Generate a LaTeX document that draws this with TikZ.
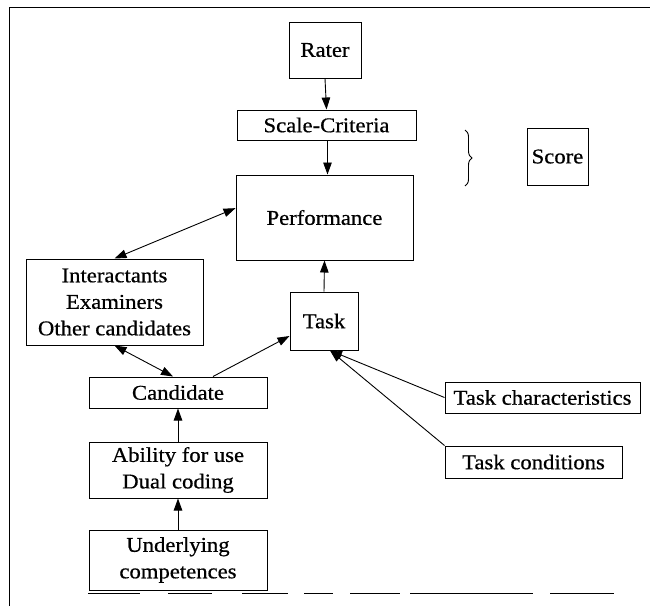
\documentclass[tikz,border=0pt]{standalone}
\usepackage{fontspec}
\setmainfont{Liberation Serif}[FakeStretch=1.08,FakeBold=0.6]
\usetikzlibrary{arrows.meta,decorations.pathreplacing}
\begin{document}
\begin{tikzpicture}[x=1pt,y=-1pt,
  box/.style={draw, line width=1pt, inner sep=0pt, align=center,
    font=\fontsize{21}{26.5}\selectfont},
  conn/.style={line width=0.9pt, -{Triangle[length=12pt,width=8.5pt]}},
  dconn/.style={line width=0.9pt, {Triangle[length=12pt,width=8.5pt]}-{Triangle[length=12pt,width=8.5pt]}},
  frame/.style={line width=1pt}]
\useasboundingbox (0,0) rectangle (650,606);
% frame
\draw[frame] (9,606) -- (9,7) -- (650,7);
\foreach \a/\b in {88/140,168/212,242/288,304/333,350/400,410/533,550/614}
  \draw[line width=0.7pt] (\a,593) -- (\b,593);
% boxes
\node[box, minimum width=72pt, minimum height=56pt] (rater) at (325,50) {Rater};
\node[box, minimum width=179pt, minimum height=30pt] (scale) at (326.5,125) {Scale-Criteria};
\node[box, minimum width=177pt, minimum height=85pt] (perf) at (324.5,217.5) {Performance};
\node[box, minimum width=61pt, minimum height=57pt] (score) at (557.5,156.5) {Score};
\node[box, minimum width=177pt, minimum height=86pt] (inter) at (114.5,302) {Interactants\\Examiners\\Other candidates};
\node[box, minimum width=68pt, minimum height=58pt] (task) at (324,321) {Task};
\node[box, minimum width=178pt, minimum height=31pt] (cand) at (178,392.5) {Candidate};
\node[box, minimum width=178pt, minimum height=56pt] (abil) at (178,470) {Ability for use\\Dual coding};
\node[box, minimum width=178pt, minimum height=60pt] (under) at (178,560) {Underlying\\competences};
\node[box, minimum width=195pt, minimum height=31pt] (tchar) at (542.5,397.5) {Task characteristics};
\node[box, minimum width=177pt, minimum height=32pt] (tcond) at (533.5,462) {Task conditions};
% brace
\draw[line width=0.9pt, decorate, decoration={brace, amplitude=7pt}] (465,130) -- (465,186);
% connectors
\draw[conn] (rater.south) -- (scale.north);
\draw[conn] ([xshift=1pt]scale.south) -- ([xshift=3pt]perf.north);
\draw[dconn] (inter.north) -- (perf.174);
\draw[dconn] (inter.south) -- ([xshift=-5pt]cand.north);
\draw[conn] ([xshift=35pt]cand.north) -- ([yshift=-15pt]task.west);
\draw[conn] (task.north) -- (perf.south);
\draw[conn] (tchar.west) -- ([xshift=6pt]task.south);
\draw[conn] (tcond.north west) -- ([xshift=6pt]task.south);
\draw[conn] (abil.north) -- (cand.south);
\draw[conn] (under.north) -- (abil.south);
\end{tikzpicture}
\end{document}
